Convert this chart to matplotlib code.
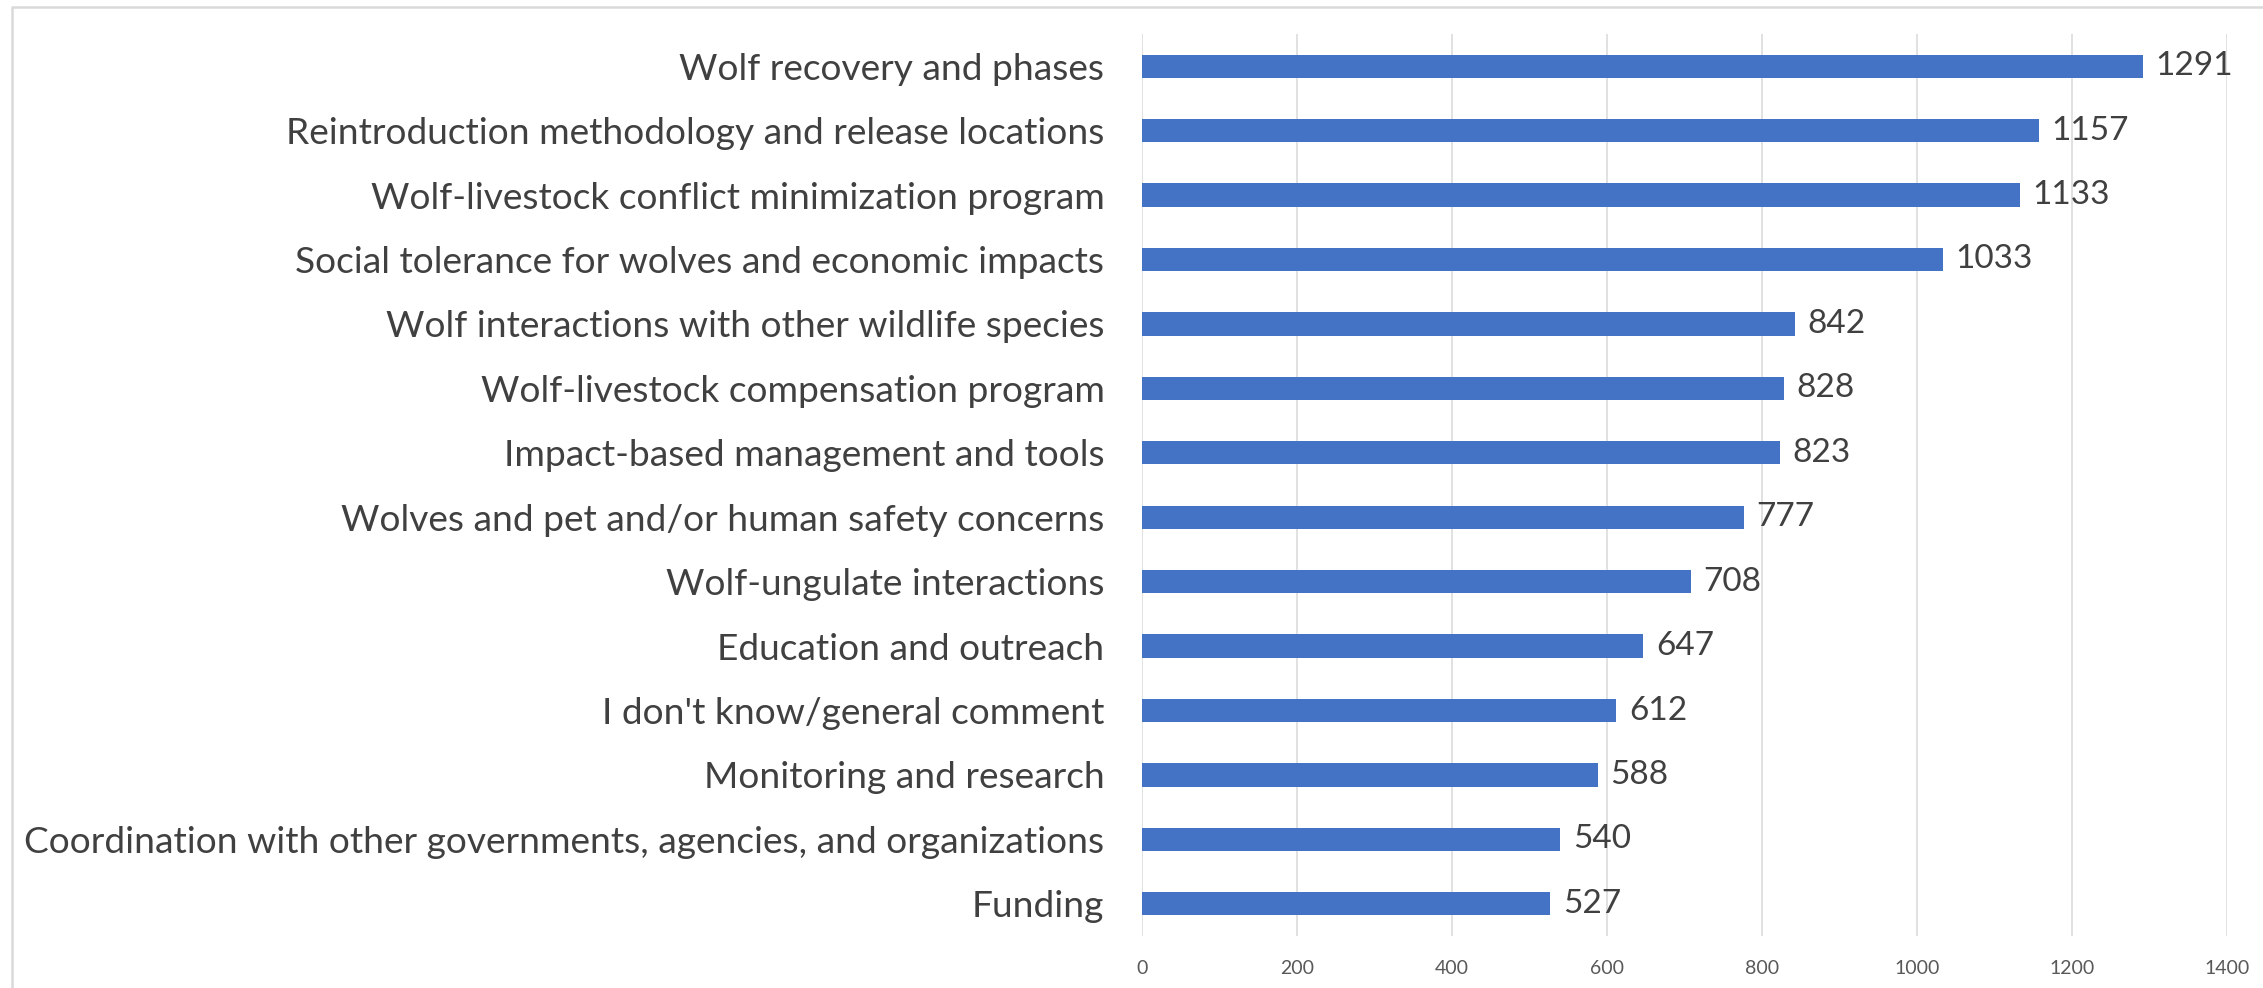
import matplotlib
matplotlib.use('Agg')
from matplotlib import pyplot as plt
from matplotlib.lines import Line2D

CATEGORIES = ['Wolf recovery and phases',
              'Reintroduction methodology and release locations',
              'Wolf-livestock conflict minimization program',
              'Social tolerance for wolves and economic impacts',
              'Wolf interactions with other wildlife species',
              'Wolf-livestock compensation program',
              'Impact-based management and tools',
              'Wolves and pet and/or human safety concerns',
              'Wolf-ungulate interactions',
              'Education and outreach',
              "I don't know/general comment",
              'Monitoring and research',
              'Coordination with other governments, agencies, and organizations',
              'Funding']
COUNTS = [1291, 1157, 1133, 1033, 842, 828, 823, 777, 708, 647, 612, 588, 540, 527]
X_TICKS = [0, 200, 400, 600, 800, 1000, 1200, 1400]

BAR_COLOR = '#4472C4'
TEXT_COLOR = '#404040'
GRID_COLOR = '#D9D9D9'

plt.rcParams['font.family'] = ['Lato', 'DejaVu Sans']


def plot_counts():
    fig = plt.figure(figsize=(22.63, 9.88), dpi=100)
    ax = fig.add_axes([0.5046, 0.0526, 0.9841 - 0.5046, 0.9656 - 0.0526])

    pos = list(range(len(CATEGORIES)))
    ax.barh(pos, COUNTS, height=0.36, color=BAR_COLOR, zorder=3)
    ax.set_ylim(len(CATEGORIES) - 0.5, -0.5)
    ax.set_xlim(0, 1400)

    ax.set_yticks(pos)
    ax.set_yticklabels(CATEGORIES, fontsize=26.7, color=TEXT_COLOR)
    ax.set_xticks(X_TICKS)
    ax.set_xticklabels([str(t) for t in X_TICKS], fontsize=14, color='#595959')
    ax.tick_params(axis='y', length=0, pad=27)
    ax.tick_params(axis='x', length=0, pad=17)

    for p, v in zip(pos, COUNTS):
        ax.annotate(str(v), (v, p), xytext=(9, 0), textcoords='offset points',
                    ha='left', va='center', fontsize=24, color=TEXT_COLOR)

    ax.grid(axis='x', color=GRID_COLOR, linewidth=1.1, zorder=0)
    for s in ax.spines.values():
        s.set_visible(False)

    # chart area frame (only left and top edges show)
    fx = 12 / 2263
    fy = 1 - 7 / 988
    fig.add_artist(Line2D([fx, fx, 1], [0, fy, fy], transform=fig.transFigure,
                          color=GRID_COLOR, linewidth=1.8))

    fig.savefig('out.png', dpi=100)


plot_counts()
